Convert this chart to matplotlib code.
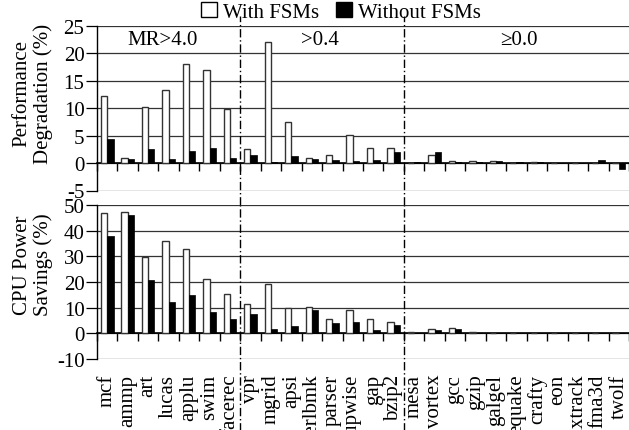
import numpy as np
import matplotlib
matplotlib.use('Agg')
import matplotlib.pyplot as plt
from matplotlib.patches import Patch
import matplotlib.transforms as mtransforms

plt.rcParams['font.family'] = ['Liberation Serif', 'DejaVu Serif']
plt.rcParams['font.size'] = 15

benchmarks = ['mcf', 'ammp', 'art', 'lucas', 'applu', 'swim', 'facerec',
              'vpr', 'mgrid', 'apsi', 'perlbmk', 'parser', 'wupwise', 'gap', 'bzip2',
              'mesa', 'vortex', 'gcc', 'gzip', 'galgel', 'equake', 'crafty', 'eon',
              'sixtrack', 'fma3d', 'twolf']

perf_with = [12.2, 0.9, 10.3, 13.3, 18.1, 17.0, 9.9,
             2.6, 22.0, 7.5, 0.9, 1.4, 5.2, 2.7, 2.7,
             0.1, 1.4, 0.3, 0.4, 0.3, 0.1, 0.15, 0.0, 0.0, 0.0, 0.0]
perf_without = [4.4, 0.7, 2.6, 0.7, 2.2, 2.7, 0.85,
                1.4, 0.2, 1.3, 0.8, 0.55, 0.4, 0.5, 2.1,
                0.15, 2.1, 0.2, 0.2, 0.3, 0.2, 0.15, 0.0, 0.1, 0.5, -1.1]

power_with = [46.9, 47.3, 29.7, 36.1, 32.8, 21.1, 15.5,
              11.6, 19.4, 10.0, 10.3, 5.7, 9.2, 5.6, 4.4,
              0.6, 1.8, 2.1, 0.6, 0.3, 0.0, 0.0, 0.0, 0.0, 0.0, 0.0]
power_without = [38.1, 46.2, 20.8, 12.4, 15.0, 8.2, 5.6,
                 7.4, 1.6, 2.9, 9.0, 4.0, 4.4, 1.2, 3.3,
                 0.3, 1.4, 1.7, 0.3, 0.2, 0.0, 0.0, 0.0, 0.0, 0.0, 0.0]

groups = ['MR>4.0', '>0.4', '≥0.0']
group_label_x = [2.7, 10.4, 20.1]
group_breaks = [6.5, 14.5]

W, H = 629, 431
fig = plt.figure(figsize=(W / 100, H / 100), dpi=100)
left = 97 / W
right = 1.0
ax1 = fig.add_axes([left, 1 - 191.5 / H, right - left, (191.5 - 27) / H])
ax2 = fig.add_axes([left, 1 - 360 / H, right - left, (360 - 206) / H])

x = np.arange(len(benchmarks))
bw = 0.31


def style(ax, ylim, yticks):
    ax.set_xlim(-0.5, len(benchmarks) - 0.5)
    ax.set_ylim(*ylim)
    ax.set_yticks(yticks)
    ax.set_yticklabels([str(t) for t in yticks])
    ax.grid(axis='y', color='#333333', linewidth=0.9)
    ax.set_axisbelow(True)
    for s in ['top', 'right']:
        ax.spines[s].set_visible(False)
    ax.spines['left'].set_linewidth(1.0)
    ax.spines['bottom'].set_position(('data', 0))
    ax.spines['bottom'].set_linewidth(1.2)
    ax.set_xticks(np.arange(len(benchmarks) + 1) - 0.5)
    ax.set_xticklabels([])
    ax.tick_params(axis='x', direction='out', length=6, width=1)
    ax.tick_params(axis='y', direction='out', length=8, width=0.9, pad=1)


ax1.bar(x - bw / 2, perf_with, bw, color='white', edgecolor='#333333', linewidth=1, zorder=3)
ax1.bar(x + bw / 2, perf_without, bw, color='black', edgecolor='black', linewidth=0.5, zorder=3)
style(ax1, (-5, 25), [-5, 0, 5, 10, 15, 20, 25])

ax2.bar(x - bw / 2, power_with, bw, color='white', edgecolor='#333333', linewidth=1, zorder=3)
ax2.bar(x + bw / 2, power_without, bw, color='black', edgecolor='black', linewidth=0.5, zorder=3)
style(ax2, (-10, 50), [-10, 0, 10, 20, 30, 40, 50])

for g, gx in zip(groups, group_label_x):
    ax1.text(gx, 22.6, g, ha='center', va='center', fontsize=15)

for b in group_breaks:
    ax1.axvline(b, ymin=-0.09, ymax=1.06, color='black', linewidth=1,
                dashes=(6, 2, 1, 2), clip_on=False, zorder=4)
    ax2.axvline(b, ymin=-0.47, ymax=1.0, color='black', linewidth=1,
                dashes=(6, 2, 1, 2), clip_on=False, zorder=4)

trans = mtransforms.blended_transform_factory(ax2.transData, ax2.transAxes)
for i, name in enumerate(benchmarks):
    ax2.text(i, -0.095, name, rotation=90, ha='center', va='top',
             transform=trans, fontsize=15)

ax1.set_ylabel('Performance\nDegradation (%)', fontsize=15, linespacing=1.1)
ax1.yaxis.set_label_coords(-0.083, 0.593)
ax2.set_ylabel('CPU Power\nSavings (%)', fontsize=15, linespacing=1.1)
ax2.yaxis.set_label_coords(-0.083, 0.617)

handles = [Patch(facecolor='white', edgecolor='black', linewidth=1),
           Patch(facecolor='black', edgecolor='black')]
fig.legend(handles, ['With FSMs', 'Without FSMs'], loc='center',
           bbox_to_anchor=(341 / W, 1 - 13 / H), ncol=2, frameon=False,
           handlelength=0.75, handleheight=0.75, handletextpad=0.3,
           columnspacing=0.8, borderpad=0, fontsize=15)

fig.savefig('out.png', dpi=100)
